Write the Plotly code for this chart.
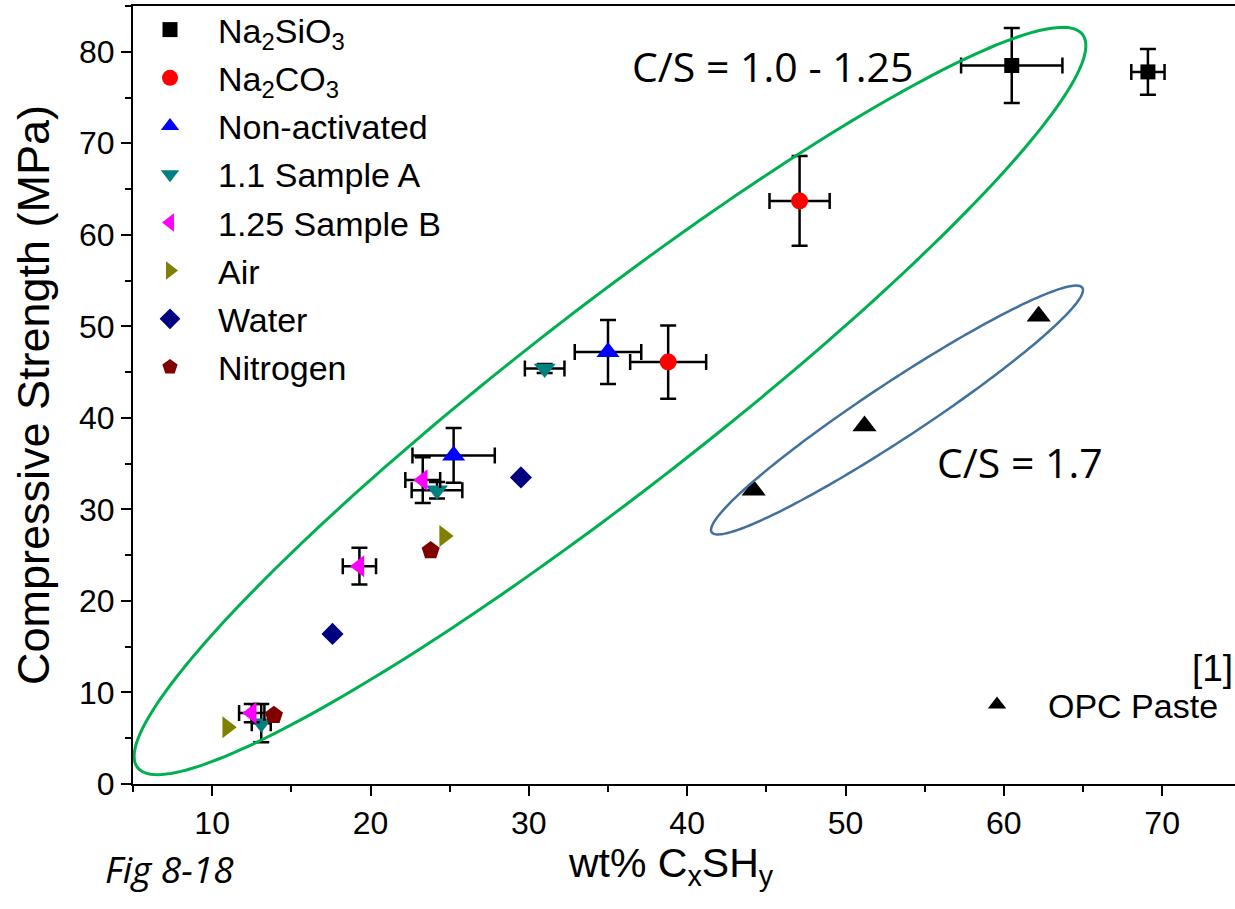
import numpy as np
import plotly.graph_objects as go

# ---------------- data ----------------
si_x = [60.5, 69.1]; si_y = [78.5, 77.8]; si_ex = [3.2, 1.05]; si_ey = [4.1, 2.5]
co_x = [47.1, 38.8]; co_y = [63.7, 46.1]; co_ex = [1.9, 2.4]; co_ey = [4.9, 4.0]
na_x = [35.0, 25.25]; na_y = [47.2, 35.9]; na_ex = [2.1, 2.6]; na_ey = [3.5, 3.0]
a_x = [31.0, 24.2, 13.1]; a_y = [45.4, 32.1, 6.65]; a_ex = [1.25, 1.6, 0.6]; a_ey = [0.5, 0.9, 2.1]
b_x = [23.3, 19.3, 12.5]; b_y = [33.2, 23.8, 7.75]; b_ex = [1.1, 1.05, 0.8]; b_ey = [2.5, 2.0, 1.0]
air_x = [10.95, 24.65]; air_y = [6.2, 27.1]
water_x = [17.6, 29.5]; water_y = [16.4, 33.5]
n2_x = [13.9, 23.8]; n2_y = [7.5, 25.5]
opc_x = [44.2, 51.2, 62.2]; opc_y = [32.1, 39.1, 51.1]

# ---------------- layout geometry ----------------
W, H = 1235, 909
ML, MR, MT, MB = 133, 0, 6, 125
XR = [5, 74.6]
YR = [0, 85]
PW = W - ML - MR
PH = H - MT - MB

FONT = "Liberation Sans, Arial, sans-serif"
CALI = "Open Sans, sans-serif"


def px_to_data(px, py):
    xd = XR[0] + (px - ML) * (XR[1] - XR[0]) / PW
    yd = YR[0] + (MT + PH - py) * (YR[1] - YR[0]) / PH
    return xd, yd


def pxx(px):
    return (px - ML) / PW


def pxy(py):
    return (MT + PH - py) / PH


def ellipse_path(cx, cy, a, b, ang, n=240):
    t = np.linspace(0, 2 * np.pi, n)
    th = np.radians(ang)
    px = cx + a * np.cos(t) * np.cos(th) + b * np.sin(t) * np.sin(th)
    py = cy - a * np.cos(t) * np.sin(th) + b * np.sin(t) * np.cos(th)
    xd, yd = px_to_data(px, py)
    pts = [f"{x:.4f},{y:.4f}" for x, y in zip(xd, yd)]
    return "M" + " L".join(pts) + " Z"


def err(vals):
    return dict(type="data", array=vals, visible=True, color="black",
                thickness=2.5, width=8)


fig = go.Figure()

series = [
    ("Na<sub>2</sub>SiO<sub>3</sub>", si_x, si_y, si_ex, si_ey, "square", "black", 15),
    ("Na<sub>2</sub>CO<sub>3</sub>", co_x, co_y, co_ex, co_ey, "circle", "#FF0000", 17),
    ("Non-activated", na_x, na_y, na_ex, na_ey, "triangle-up", "#0000FF", 20),
    ("1.1 Sample A", a_x, a_y, a_ex, a_ey, "triangle-down", "#008080", 19),
    ("1.25 Sample B", b_x, b_y, b_ex, b_ey, "triangle-left", "#FF00FF", 19),
    ("Air", air_x, air_y, None, None, "triangle-right", "#808000", 19),
    ("Water", water_x, water_y, None, None, "diamond", "#000080", 17),
    ("Nitrogen", n2_x, n2_y, None, None, "pentagon", "#800000", 19),
]

for name, xs, ys, ex, ey, sym, col, sz in series:
    kw = {}
    if ex is not None:
        kw["error_x"] = err(ex)
        kw["error_y"] = err(ey)
    fig.add_trace(go.Scatter(
        x=xs, y=ys, mode="markers", name=name, legendgroup=name,
        marker=dict(symbol=sym, color=col, size=sz, line=dict(width=0)),
        legend="legend", **kw))

fig.add_trace(go.Scatter(
    x=opc_x, y=opc_y, mode="markers", name="OPC Paste",
    marker=dict(symbol="triangle-up", color="black", size=21, line=dict(width=0)),
    legend="legend2"))

shapes = [
    dict(type="path", xref="x", yref="y",
         path=ellipse_path(610, 401, 598, 92, 37.8),
         line=dict(color="#00B050", width=3), layer="above"),
    dict(type="path", xref="x", yref="y",
         path=ellipse_path(897, 410, 222, 28, 33.4),
         line=dict(color="#41719C", width=2.5), layer="above"),
]

annotations = [
    dict(text="C/S = 1.0 - 1.25", x=45.4, y=78.4, xref="x", yref="y",
         xanchor="center", yanchor="middle",
         showarrow=False, font=dict(family=CALI, size=41, color="black")),
    dict(text="C/S = 1.7", x=61.0, y=35.2, xref="x", yref="y",
         xanchor="center", yanchor="middle",
         showarrow=False, font=dict(family=CALI, size=41, color="black")),
    dict(text="[1]", x=pxx(1212), y=pxy(668), xref="paper", yref="paper",
         xanchor="center", yanchor="middle",
         showarrow=False, font=dict(family=FONT, size=37, color="black")),
    dict(text="<i>Fig 8-18</i>", x=pxx(169), y=pxy(868),
         xref="paper", yref="paper", xanchor="center", yanchor="middle",
         showarrow=False, font=dict(family=CALI, size=37, color="black")),
    dict(text="wt% C<sub>x</sub>SH<sub>y</sub>", x=pxx(671), y=pxy(866),
         xref="paper", yref="paper", xanchor="center", yanchor="middle",
         showarrow=False, font=dict(family=FONT, size=41, color="black")),
]

axis_common = dict(
    showline=True, linecolor="black", linewidth=2,
    ticks="outside", ticklen=10, tickwidth=2, tickcolor="black",
    showgrid=False, zeroline=False,
    tickfont=dict(family=FONT, size=32, color="black"),
)

fig.update_layout(
    width=W, height=H,
    margin=dict(l=ML, r=MR, t=MT, b=MB, pad=0),
    paper_bgcolor="white", plot_bgcolor="white",
    xaxis=dict(range=XR, dtick=10, tick0=0, mirror=True,
               minor=dict(dtick=5, tick0=0, ticks="outside", ticklen=6,
                          tickwidth=2, tickcolor="black"),
               **axis_common),
    yaxis=dict(range=YR, dtick=10, tick0=0,
               minor=dict(dtick=5, tick0=0, ticks="outside", ticklen=6,
                          tickwidth=2, tickcolor="black"),
               title=dict(text="Compressive Strength (MPa)",
                          font=dict(family=FONT, size=45, color="black"),
                          standoff=15),
               **axis_common),
    showlegend=True,
    legend=dict(x=pxx(122), y=pxy(1), xanchor="left", yanchor="top",
                bgcolor="rgba(0,0,0,0)", borderwidth=0,
                font=dict(family=FONT, size=34, color="black"),
                tracegroupgap=1, itemwidth=86),
    legend2=dict(x=pxx(946), y=pxy(705), xanchor="left", yanchor="middle",
                 bgcolor="rgba(0,0,0,0)", borderwidth=0,
                 font=dict(family=FONT, size=34, color="black"), itemwidth=92),
    shapes=shapes,
    annotations=annotations,
)

fig.write_html("out.html")
